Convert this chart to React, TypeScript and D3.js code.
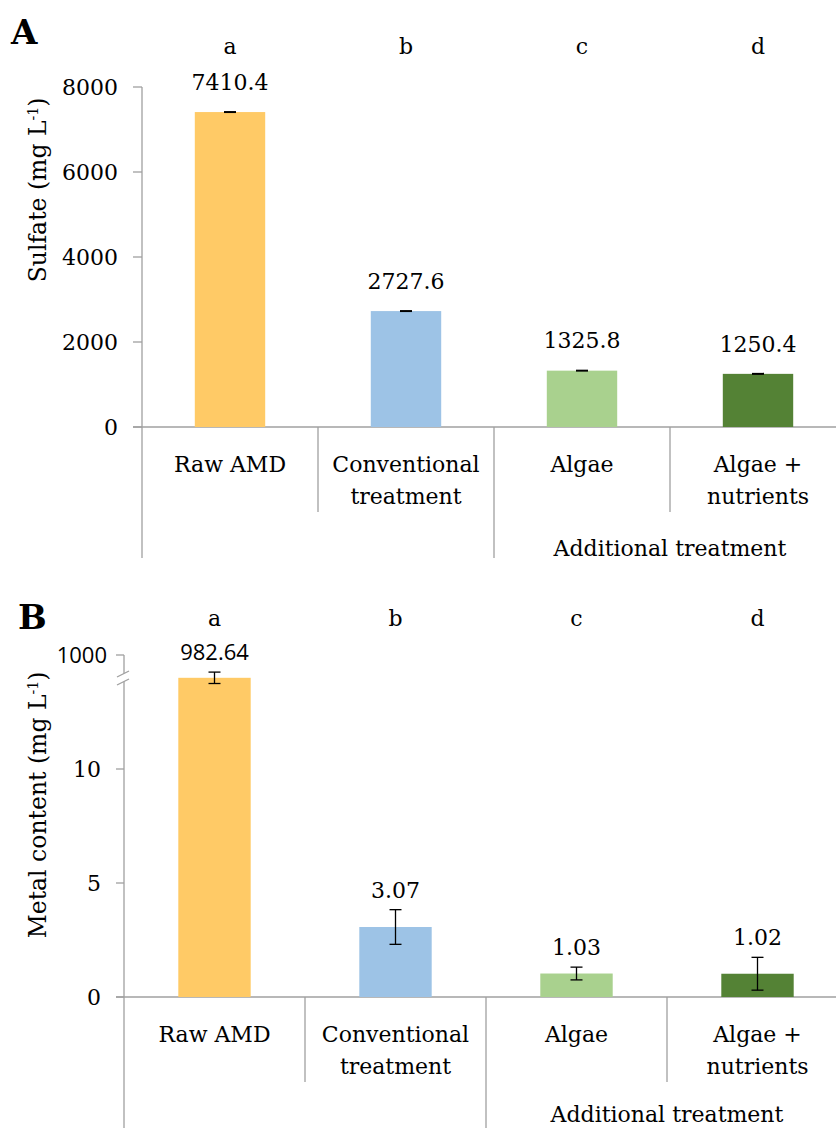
import React, { useRef, useEffect } from 'react';
import * as d3 from 'd3';

const categoryLines = [['Raw AMD'], ['Conventional', 'treatment'], ['Algae'], ['Algae +', 'nutrients']];
const groupLabel = 'Additional treatment';
const letters = ['a', 'b', 'c', 'd'];
const barColors = ['#FFCA66', '#9DC3E6', '#A9D18E', '#548235'];

const sulfate = [7410.4, 2727.6, 1325.8, 1250.4];
const sulfateErr = [8, 8, 8, 8];
const sulfateTicks = [0, 2000, 4000, 6000, 8000];

const metal = [982.64, 3.07, 1.03, 1.02];
// first error is in axis units at the break (raw AMD bar is cut there)
const metalErr = [0.25, 0.76, 0.28, 0.72];
const metalTicks = [0, 5, 10];
const metalBreakLabel = '1000';

const SERIF = '"DejaVu Serif", serif';
const SANS = '"Open Sans", "Noto Sans", sans-serif';
const AXIS = '#a0a0a0';
const FS = 22;

export default function App() {
  const ref = useRef(null);

  useEffect(() => {
    const svg = d3.select(ref.current);
    svg.selectAll('*').remove();

    const drawPanel = (opts) => {
      const {
        label, labelPos, left, catW, yTop, yZero, y, ticks,
        values, errs, shown, valueFont, letterY, lineY, shortBottom, longBottom, groupY,
        title, titleY, tickLeft, tickLabelX,
      } = opts;
      const g = svg.append('g');
      const x = d3.scaleBand().domain(d3.range(4)).range([left, left + catW * 4]).paddingInner(0.6).paddingOuter(0.3);

      // panel letter
      g.append('text').attr('x', labelPos[0]).attr('y', labelPos[1])
        .attr('font-family', SERIF).attr('font-weight', 'bold').attr('font-size', 34).text(label);

      // axis title
      const t = g.append('text')
        .attr('transform', `translate(46,${titleY}) rotate(-90)`)
        .attr('text-anchor', 'middle').attr('font-family', SERIF).attr('font-size', 23.5);
      t.append('tspan').text(title + ' (mg L');
      t.append('tspan').attr('font-size', 14).attr('baseline-shift', 'super').text('-1');
      t.append('tspan').text(')');

      // y axis line
      g.append('line').attr('x1', left).attr('x2', left).attr('y1', yTop).attr('y2', longBottom)
        .attr('stroke', AXIS).attr('stroke-width', 1.3);
      // x axis line
      g.append('line').attr('x1', tickLeft).attr('x2', 836).attr('y1', yZero).attr('y2', yZero)
        .attr('stroke', AXIS).attr('stroke-width', 1.3);

      ticks.forEach((tk) => {
        g.append('line').attr('x1', tickLeft).attr('x2', left).attr('y1', y(tk.pos)).attr('y2', y(tk.pos))
          .attr('stroke', AXIS).attr('stroke-width', 1.3);
        g.append('text').attr('x', tk.sans ? tickLabelX + 6 : tickLabelX).attr('y', y(tk.pos) + 8)
          .attr('text-anchor', 'end').attr('font-family', tk.sans ? SANS : SERIF).attr('font-size', FS)
          .text(tk.text);
      });

      // category dividers
      for (let i = 1; i <= 4; i++) {
        const xx = left + catW * i;
        g.append('line').attr('x1', xx).attr('x2', xx).attr('y1', yZero)
          .attr('y2', i === 2 ? longBottom : shortBottom)
          .attr('stroke', AXIS).attr('stroke-width', 1.3);
      }

      values.forEach((v, i) => {
        const top = y(shown(v));
        g.append('rect').attr('x', x(i)).attr('width', x.bandwidth()).attr('y', top)
          .attr('height', yZero - top).attr('fill', barColors[i]);
        const cx = x(i) + x.bandwidth() / 2;
        const hi = y(shown(v) + errs[i]);
        const lo = y(shown(v) - errs[i]);
        g.append('line').attr('x1', cx).attr('x2', cx).attr('y1', hi).attr('y2', lo).attr('stroke', '#000').attr('stroke-width', 1.3);
        [hi, lo].forEach((yy) => g.append('line').attr('x1', cx - 6).attr('x2', cx + 6).attr('y1', yy).attr('y2', yy)
          .attr('stroke', '#000').attr('stroke-width', 1.3));
        g.append('text').attr('x', cx).attr('y', Math.min(hi, top) - opts.valueGap)
          .attr('text-anchor', 'middle').attr('font-family', valueFont(i)).attr('font-size', FS).text(String(v));
        g.append('text').attr('x', cx).attr('y', letterY).attr('text-anchor', 'middle')
          .attr('font-family', SERIF).attr('font-size', FS).text(letters[i]);
        categoryLines[i].forEach((ln, j) => {
          g.append('text').attr('x', left + catW * (i + 0.5)).attr('y', lineY + j * 32)
            .attr('text-anchor', 'middle').attr('font-family', SERIF).attr('font-size', FS).text(ln);
        });
      });

      g.append('text').attr('x', left + catW * 3).attr('y', groupY).attr('text-anchor', 'middle')
        .attr('font-family', SERIF).attr('font-size', FS).text(groupLabel);
      return g;
    };

    // Panel A
    const yA = d3.scaleLinear().domain([0, 8000]).range([427, 87]);
    drawPanel({
      label: 'A', labelPos: [11, 44], left: 142, catW: 176, yTop: 87, yZero: 427, y: yA,
      ticks: sulfateTicks.map((v) => ({ pos: v, text: String(v) })),
      values: sulfate, errs: sulfateErr, shown: (v) => v, valueFont: () => SERIF, valueGap: 22,
      letterY: 54, lineY: 472, shortBottom: 512, longBottom: 558, groupY: 556,
      title: 'Sulfate', titleY: 190, tickLeft: 133, tickLabelX: 118,
    });

    // Panel B (broken axis: top tick stands for 1000, bars above 10 are cut at the break)
    const yB = d3.scaleLinear().domain([0, 15]).range([997, 655]);
    const breakPos = 14;
    const gB = drawPanel({
      label: 'B', labelPos: [18, 629], left: 124, catW: 181, yTop: 655, yZero: 997, y: yB,
      ticks: [...metalTicks.map((v) => ({ pos: v, text: String(v) })), { pos: 15, text: metalBreakLabel, sans: true }],
      values: metal, errs: metalErr, shown: (v) => (v > 10 ? breakPos : v),
      valueFont: (i) => (metal[i] > 10 ? SANS : SERIF), valueGap: 12,
      letterY: 626, lineY: 1042, shortBottom: 1082, longBottom: 1128, groupY: 1122,
      title: 'Metal content', titleY: 805, tickLeft: 116, tickLabelX: 101,
    });
    const by = yB(breakPos + 0.3);
    gB.append('polygon')
      .attr('points', `117,${by + 6} 129,${by} 129,${by + 8} 117,${by + 14}`)
      .attr('fill', '#fff');
    [0, 8].forEach((d) => gB.append('line').attr('x1', 117).attr('x2', 129)
      .attr('y1', by + 6 + d).attr('y2', by + d).attr('stroke', AXIS).attr('stroke-width', 1.3));
  }, []);

  return (
    <svg ref={ref} width={836} height={1128} style={{ position: 'absolute', left: 0, top: 0, background: '#fff' }} />
  );
}
